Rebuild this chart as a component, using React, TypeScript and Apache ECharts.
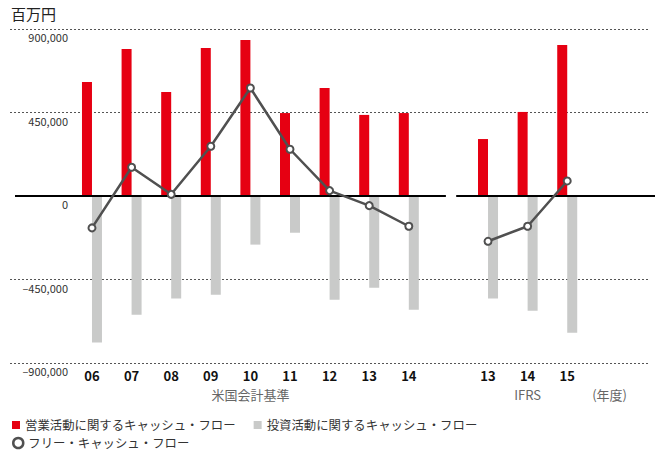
import { useEffect, useRef } from 'react';
import * as echarts from 'echarts';

// ---- data ----
const usYears = ['06', '07', '08', '09', '10', '11', '12', '13', '14'];
const ifrsYears = ['13', '14', '15'];
const usOperating = [614000, 792000, 560000, 798000, 841000, 447000, 582000, 437000, 447000];
const usInvesting = [-790000, -640000, -553000, -532000, -262000, -198000, -559000, -494000, -613000];
const usFree = [-172000, 155000, 9000, 268000, 582000, 252000, 29000, -52000, -163000];
const ifrsOperating = [307000, 453000, 814000];
const ifrsInvesting = [-553000, -618000, -737000];
const ifrsFree = [-244000, -163000, 81000];
const yMin = -900000;
const yMax = 900000;
const yStep = 450000;
const seriesNames = ['営業活動に関するキャッシュ・フロー', '投資活動に関するキャッシュ・フロー', 'フリー・キャッシュ・フロー'];
const standardLabels = ['米国会計基準', 'IFRS'];
const unitLabel = '(年度)';
const titleText = '百万円';

const FONT = '"Noto Sans CJK JP", "Noto Sans", sans-serif';
const RED = '#e60012';
const GRAY = '#c9cac9';
const LINE = '#505050';

export default function App() {
  const ref = useRef<HTMLDivElement>(null);
  useEffect(() => {
    document.body.style.margin = '0';
    if (!ref.current) return;
    const chart = echarts.init(ref.current, undefined, { renderer: 'svg' });

    const usPos = usYears.map((_, i) => i);
    const ifrsPos = ifrsYears.map((_, i) => usYears.length + 1 + i);
    const unitPos = ifrsPos[ifrsPos.length - 1] + 1.07;
    const xMin = -2.07;
    const xMax = 14.09;

    const labelMap: Record<number, string> = {};
    usYears.forEach((y, i) => {
      labelMap[Math.round(usPos[i] * 100)] = i === 4 ? `{a|${y}}\n{b|${standardLabels[0]}}` : `{a|${y}}`;
    });
    ifrsYears.forEach((y, i) => {
      labelMap[Math.round(ifrsPos[i] * 100)] = i === 1 ? `{a|${y}}\n{b|${standardLabels[1]}}` : `{a|${y}}`;
    });
    labelMap[Math.round(unitPos * 100)] = `{a| }\n{b|${unitLabel}}`;

    const opData = [
      ...usOperating.map((v, i) => [usPos[i], v]),
      ...ifrsOperating.map((v, i) => [ifrsPos[i], v]),
    ];
    const invData = [
      ...usInvesting.map((v, i) => [usPos[i], v]),
      ...ifrsInvesting.map((v, i) => [ifrsPos[i], v]),
    ];
    const usFreeData = usFree.map((v, i) => [usPos[i], v]);
    const ifrsFreeData = ifrsFree.map((v, i) => [ifrsPos[i], v]);

    const lineSeries = (data: number[][]) => ({
      name: seriesNames[2],
      type: 'line',
      data,
      z: 5,
      symbol: 'circle',
      symbolSize: 7,
      lineStyle: { color: LINE, width: 2.5 },
      itemStyle: { color: '#fff', borderColor: LINE, borderWidth: 2 },
      emphasis: { disabled: true },
    });

    const option: any = {
      animation: false,
      textStyle: { fontFamily: FONT },
      title: {
        text: titleText,
        left: 11,
        top: 6,
        padding: 0,
        textStyle: { fontSize: 15, fontWeight: 'normal', color: '#222', fontFamily: FONT },
      },
      legend: [
        {
          data: [
            { name: seriesNames[0], icon: 'rect' },
            { name: seriesNames[1], icon: 'rect' },
          ],
          left: 12,
          top: 418.5,
          padding: 0,
          itemWidth: 8,
          itemHeight: 8,
          itemGap: 18,
          selectedMode: false,
          textStyle: { fontSize: 12.4, color: '#333', lineHeight: 13, fontFamily: FONT },
        },
        {
          data: [{ name: seriesNames[2], icon: 'circle' }],
          left: 12,
          top: 436.5,
          padding: 0,
          itemWidth: 10,
          itemHeight: 10,
          selectedMode: false,
          itemStyle: { color: '#fff', borderColor: LINE, borderWidth: 2.5 },
          textStyle: { fontSize: 12.4, color: '#333', lineHeight: 13, fontFamily: FONT },
        },
      ],
      grid: { left: 10, right: 11, top: 29, bottom: 89 },
      xAxis: {
        type: 'value',
        min: xMin,
        max: xMax,
        axisLine: { show: false },
        axisTick: { show: false },
        splitLine: { show: false },
        axisLabel: {
          customValues: [...usPos, ...ifrsPos, unitPos],
          showMinLabel: true,
          showMaxLabel: true,
          margin: 4,
          formatter: (v: number) => labelMap[Math.round(v * 100)] ?? '',
          rich: {
            a: { fontSize: 13, fontWeight: 'bold', color: '#111', lineHeight: 16, fontFamily: FONT },
            b: { fontSize: 13, color: '#666', lineHeight: 22, fontFamily: FONT },
          },
        },
      },
      yAxis: {
        type: 'value',
        min: yMin,
        max: yMax,
        interval: yStep,
        axisLine: { show: false },
        axisTick: { show: false },
        splitLine: {
          show: true,
          lineStyle: {
            color: ['#555', '#555', 'rgba(0,0,0,0)', '#555', '#555'],
            type: [2, 2],
            width: 1,
          },
        },
        axisLabel: {
          inside: true,
          align: 'right',
          margin: 58,
          verticalAlign: 'top',
          padding: [3, 0, 0, 0],
          fontSize: 11,
          color: '#333',
          fontFamily: FONT,
          formatter: (v: number) =>
            v === 0 ? '0' : (v < 0 ? '–' : '') + Math.abs(v).toLocaleString('en-US'),
        },
      },
      series: [
        {
          name: seriesNames[0],
          type: 'bar',
          data: opData,
          barWidth: 10,
          barGap: '0%',
          itemStyle: { color: RED },
          emphasis: { disabled: true },
        },
        {
          name: seriesNames[1],
          type: 'bar',
          data: invData,
          barWidth: 10,
          barGap: '0%',
          itemStyle: { color: GRAY },
          emphasis: { disabled: true },
          markLine: {
            silent: true,
            symbol: ['none', 'none'],
            label: { show: false },
            lineStyle: { color: '#000', width: 2, type: 'solid', opacity: 1 },
            emphasis: { disabled: true },
            data: [
              [{ coord: [xMin, 0] }, { coord: [usPos[usPos.length - 1] + 0.81, 0] }],
              [{ coord: [ifrsPos[0] - 0.93, 0] }, { coord: [xMax, 0] }],
            ],
          },
        },
        lineSeries(usFreeData),
        lineSeries(ifrsFreeData),
      ],
    };
    chart.setOption(option);
    return () => chart.dispose();
  }, []);
  return <div ref={ref} style={{ position: 'absolute', left: 0, top: 0, width: 661, height: 452 }} />;
}
